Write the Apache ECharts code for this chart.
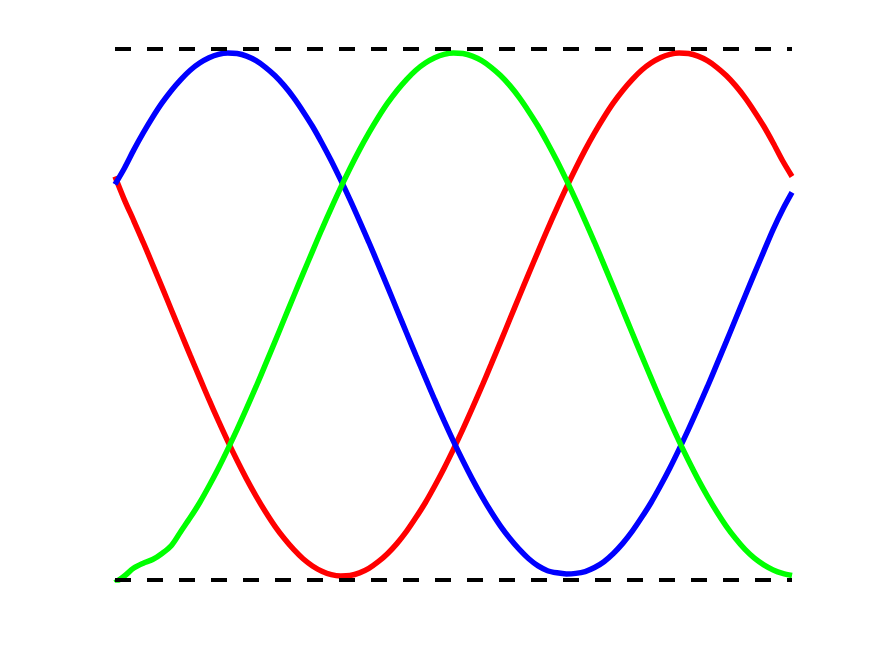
<!DOCTYPE html>
<html>
<head>
<meta charset="utf-8">
<script src="https://cdn.jsdelivr.net/npm/echarts@6/dist/echarts.min.js"></script>
<style>
html,body{margin:0;padding:0;background:#fff;}
#chart{width:875px;height:656px;}
</style>
</head>
<body>
<div id="chart"></div>
<script>
// phase angle (degrees)
var angles = [0,5,10,15,20,25,30,35,40,45,50,55,60,65,70,75,80,85,90,95,100,105,110,115,120,125,130,135,140,145,150,155,160,165,170,175,180,185,190,195,200,205,210,215,220,225,230,235,240,245,250,255,260,265,270,275,280,285,290,295,300,305,310,315,320,325,330,335,340,345,350,355,360];
var redValues = [0.52, 0.432, 0.353, 0.272, 0.188, 0.103, 0.017, -0.069, -0.154, -0.238, -0.321, -0.401, -0.478, -0.551, -0.620, -0.684, -0.743, -0.797, -0.844, -0.885, -0.920, -0.947, -0.967, -0.980, -0.985, -0.983, -0.973, -0.956, -0.931, -0.900, -0.862, -0.817, -0.765, -0.709, -0.646, -0.579, -0.507, -0.432, -0.353, -0.272, -0.188, -0.103, -0.017, 0.069, 0.154, 0.238, 0.321, 0.401, 0.478, 0.551, 0.620, 0.684, 0.743, 0.797, 0.844, 0.885, 0.920, 0.947, 0.967, 0.980, 0.985, 0.983, 0.973, 0.956, 0.931, 0.900, 0.862, 0.817, 0.765, 0.709, 0.646, 0.579, 0.52];
var greenValues = [-1.01, -0.985, -0.955, -0.937, -0.923, -0.900, -0.870, -0.817, -0.765, -0.709, -0.646, -0.579, -0.507, -0.432, -0.353, -0.272, -0.188, -0.103, -0.017, 0.069, 0.154, 0.238, 0.321, 0.401, 0.478, 0.551, 0.620, 0.684, 0.743, 0.797, 0.844, 0.885, 0.920, 0.947, 0.967, 0.980, 0.985, 0.983, 0.973, 0.956, 0.931, 0.900, 0.862, 0.817, 0.765, 0.709, 0.646, 0.579, 0.507, 0.432, 0.353, 0.272, 0.188, 0.103, 0.017, -0.069, -0.154, -0.238, -0.321, -0.401, -0.478, -0.551, -0.620, -0.684, -0.743, -0.797, -0.844, -0.885, -0.918, -0.943, -0.962, -0.975, -0.983];
var blueValues = [0.49, 0.551, 0.620, 0.684, 0.743, 0.797, 0.844, 0.885, 0.920, 0.947, 0.967, 0.980, 0.985, 0.983, 0.973, 0.956, 0.931, 0.900, 0.862, 0.817, 0.765, 0.709, 0.646, 0.579, 0.507, 0.432, 0.353, 0.272, 0.188, 0.103, 0.017, -0.069, -0.154, -0.238, -0.321, -0.401, -0.478, -0.551, -0.620, -0.684, -0.743, -0.797, -0.844, -0.885, -0.920, -0.947, -0.965, -0.973, -0.977, -0.975, -0.968, -0.953, -0.931, -0.900, -0.862, -0.817, -0.765, -0.709, -0.646, -0.579, -0.507, -0.432, -0.353, -0.272, -0.188, -0.103, -0.017, 0.069, 0.154, 0.238, 0.321, 0.395, 0.46];
var limitLevels = [1, -1];

function pairs(xs, ys){ return xs.map(function(x, i){ return [x, ys[i]]; }); }

var chart = echarts.init(document.getElementById('chart'));
function curve(name, color, vals, z){
  return {
    name: name, type: 'line', data: pairs(angles, vals), smooth: 0.3,
    showSymbol: false, symbol: 'none', z: z, animation: false,
    lineStyle: { color: color, width: 5.5, cap: 'butt' }
  };
}
var series = [
  curve('red', '#ff0000', redValues, 2),
  curve('blue', '#0000ff', blueValues, 3),
  curve('green', '#00ff00', greenValues, 4)
];
limitLevels.forEach(function(v){
  series.push({
    type: 'line', data: [[angles[0], v], [angles[angles.length-1], v]],
    showSymbol: false, symbol: 'none', z: 5, animation: false,
    lineStyle: { color: '#000000', width: 4, type: [16, 16], cap: 'butt' }
  });
});
chart.setOption({
  animation: false,
  backgroundColor: '#ffffff',
  grid: { left: 115, right: 83, top: 49, bottom: 76 },
  xAxis: { type: 'value', min: 0, max: 360, show: false },
  yAxis: { type: 'value', min: -1, max: 1, show: false },
  series: series
});
</script>
</body>
</html>
